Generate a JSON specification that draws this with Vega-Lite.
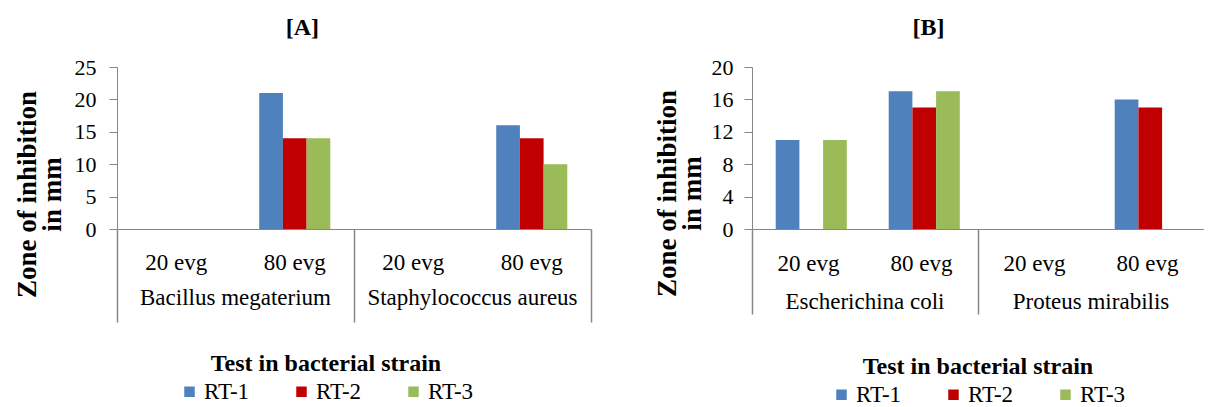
{
  "$schema": "https://vega.github.io/schema/vega-lite/v6.json",
  "padding": {"left": 13, "top": 16, "right": 0, "bottom": 0},
  "config": {
    "font": "Liberation Serif, DejaVu Serif, serif",
    "view": {"stroke": null},
    "axis": {"labelColor": "#000", "titleColor": "#000", "grid": false, "domainColor": "#868686", "tickColor": "#868686", "labelFont": "Liberation Serif, DejaVu Serif, serif", "titleFont": "Liberation Serif, DejaVu Serif, serif"},
    "legend": {"layout": {"bottom": {"anchor": "middle"}}, "labelFont": "Liberation Serif, DejaVu Serif, serif", "titleFont": "Liberation Serif, DejaVu Serif, serif", "labelColor": "#000", "titleColor": "#000"},
    "title": {"font": "Liberation Serif, DejaVu Serif, serif", "color": "#000"}
  },
  "datasets": {
    "a": [
      {"cat": "Bacillus megaterium|20 evg", "rt": "RT-1", "value": 0},
      {"cat": "Bacillus megaterium|20 evg", "rt": "RT-2", "value": 0},
      {"cat": "Bacillus megaterium|20 evg", "rt": "RT-3", "value": 0},
      {"cat": "Bacillus megaterium|80 evg", "rt": "RT-1", "value": 21},
      {"cat": "Bacillus megaterium|80 evg", "rt": "RT-2", "value": 14},
      {"cat": "Bacillus megaterium|80 evg", "rt": "RT-3", "value": 14},
      {"cat": "Staphylococcus aureus|20 evg", "rt": "RT-1", "value": 0},
      {"cat": "Staphylococcus aureus|20 evg", "rt": "RT-2", "value": 0},
      {"cat": "Staphylococcus aureus|20 evg", "rt": "RT-3", "value": 0},
      {"cat": "Staphylococcus aureus|80 evg", "rt": "RT-1", "value": 16},
      {"cat": "Staphylococcus aureus|80 evg", "rt": "RT-2", "value": 14},
      {"cat": "Staphylococcus aureus|80 evg", "rt": "RT-3", "value": 10}
    ],
    "b": [
      {"cat": "Escherichina coli|20 evg", "rt": "RT-1", "value": 11},
      {"cat": "Escherichina coli|20 evg", "rt": "RT-2", "value": 0},
      {"cat": "Escherichina coli|20 evg", "rt": "RT-3", "value": 11},
      {"cat": "Escherichina coli|80 evg", "rt": "RT-1", "value": 17},
      {"cat": "Escherichina coli|80 evg", "rt": "RT-2", "value": 15},
      {"cat": "Escherichina coli|80 evg", "rt": "RT-3", "value": 17},
      {"cat": "Proteus mirabilis|20 evg", "rt": "RT-1", "value": 0},
      {"cat": "Proteus mirabilis|20 evg", "rt": "RT-2", "value": 0},
      {"cat": "Proteus mirabilis|20 evg", "rt": "RT-3", "value": 0},
      {"cat": "Proteus mirabilis|80 evg", "rt": "RT-1", "value": 16},
      {"cat": "Proteus mirabilis|80 evg", "rt": "RT-2", "value": 15},
      {"cat": "Proteus mirabilis|80 evg", "rt": "RT-3", "value": 0}
    ]
  },
  "spacing": 61,
  "resolve": {"scale": {"color": "independent"}, "legend": {"color": "independent"}},
  "hconcat": [
    {
      "width": 474,
      "height": 162,
      "title": {"text": "[A]", "fontSize": 24, "fontWeight": "bold", "frame": "bounds", "anchor": "middle", "offset": 16},
      "data": {"name": "a"},
      "resolve": {"axis": {"x": "independent"}},
      "layer": [
        {
          "mark": {"type": "bar"},
          "encoding": {
            "x": {"field": "cat", "type": "nominal",
              "scale": {"domain": ["Bacillus megaterium|20 evg", "Bacillus megaterium|80 evg", "Staphylococcus aureus|20 evg", "Staphylococcus aureus|80 evg"], "paddingInner": 0, "paddingOuter": 0},
              "axis": {"orient": "bottom", "title": null, "labelExpr": "split(datum.value, '|')[1]", "ticks": false, "labelPadding": 22, "labelAngle": 0, "labelFontSize": 23, "labelLimit": 0}},
            "xOffset": {"field": "rt", "type": "nominal", "scale": {"domain": ["RT-1", "RT-2", "RT-3"], "paddingInner": 0, "paddingOuter": 1.8}},
            "y": {"field": "value", "type": "quantitative",
              "scale": {"domain": [0, 25], "nice": false},
              "axis": {"values": [0, 5, 10, 15, 20, 25], "title": ["Zone of inhibition", "in mm"], "titleFontSize": 27, "titleFontWeight": "bold", "titleLineHeight": 25, "titlePadding": 8, "titleY": 127, "labelFontSize": 22, "tickSize": 8, "labelPadding": 13}},
            "color": {"field": "rt", "type": "nominal",
              "scale": {"domain": ["RT-1", "RT-2", "RT-3"], "range": ["#4F81BD", "#C00000", "#9BBB59"]},
              "legend": {"title": "Test in bacterial strain", "orient": "none", "legendX": 61, "legendY": 285, "direction": "horizontal", "titleAnchor": "middle", "titleFontSize": 24, "titleFontWeight": "bold", "titleLimit": 0, "labelFontSize": 23, "symbolType": "square", "symbolSize": 110, "symbolStrokeWidth": 0, "columnPadding": 40, "titlePadding": 4, "labelOffset": 3}}
          }
        },
        {
          "mark": {"type": "rule", "opacity": 0},
          "encoding": {
            "x": {"field": "cat", "type": "nominal",
              "axis": {"orient": "bottom", "title": null, "values": ["Bacillus megaterium|20 evg", "Staphylococcus aureus|20 evg"], "bandPosition": 0, "labels": false, "domain": false, "tickSize": 93, "tickWidth": 1.5}}
          }
        },
        {
          "mark": {"type": "rule", "opacity": 0},
          "encoding": {
            "x": {"field": "cat", "type": "nominal",
              "axis": {"orient": "bottom", "title": null, "values": ["Staphylococcus aureus|80 evg"], "bandPosition": 1, "labels": false, "domain": false, "tickSize": 93, "tickWidth": 1.5}}
          }
        },
        {
          "mark": {"type": "rule", "opacity": 0},
          "encoding": {
            "x": {"field": "cat", "type": "nominal",
              "axis": {"orient": "bottom", "title": null, "values": ["Bacillus megaterium|80 evg", "Staphylococcus aureus|80 evg"], "labelExpr": "split(datum.value, '|')[0]", "labelOffset": -59.25, "ticks": false, "domain": false, "labelPadding": 57, "labelAngle": 0, "labelFontSize": 23, "labelLimit": 0}}
          }
        }
      ]
    },
    {
      "width": 452,
      "height": 162,
      "title": {"text": "[B]", "fontSize": 24, "fontWeight": "bold", "frame": "bounds", "anchor": "middle", "offset": 16},
      "data": {"name": "b"},
      "resolve": {"axis": {"x": "independent"}},
      "layer": [
        {
          "mark": {"type": "bar"},
          "encoding": {
            "x": {"field": "cat", "type": "nominal",
              "scale": {"domain": ["Escherichina coli|20 evg", "Escherichina coli|80 evg", "Proteus mirabilis|20 evg", "Proteus mirabilis|80 evg"], "paddingInner": 0, "paddingOuter": 0},
              "axis": {"orient": "bottom", "title": null, "labelExpr": "split(datum.value, '|')[1]", "ticks": false, "labelPadding": 23, "labelAngle": 0, "labelFontSize": 23, "labelLimit": 0}},
            "xOffset": {"field": "rt", "type": "nominal", "scale": {"domain": ["RT-1", "RT-2", "RT-3"], "paddingInner": 0, "paddingOuter": 1.6}},
            "y": {"field": "value", "type": "quantitative",
              "scale": {"domain": [0, 20], "nice": false},
              "axis": {"values": [0, 4, 8, 12, 16, 20], "title": ["Zone of inhibition", "in mm"], "titleFontSize": 27, "titleFontWeight": "bold", "titleLineHeight": 25, "titlePadding": 5, "titleY": 126, "labelFontSize": 22, "tickSize": 8, "labelPadding": 11}},
            "color": {"field": "rt", "type": "nominal",
              "scale": {"domain": ["RT-1", "RT-2", "RT-3"], "range": ["#4F81BD", "#C00000", "#9BBB59"]},
              "legend": {"title": "Test in bacterial strain", "orient": "bottom", "direction": "horizontal", "titleAnchor": "middle", "titleFontSize": 24, "titleFontWeight": "bold", "titleLimit": 0, "labelFontSize": 23, "symbolType": "square", "symbolSize": 110, "symbolStrokeWidth": 0, "columnPadding": 40, "offset": 40, "titlePadding": 4, "labelOffset": 3}}
          }
        },
        {
          "mark": {"type": "rule", "opacity": 0},
          "encoding": {
            "x": {"field": "cat", "type": "nominal",
              "axis": {"orient": "bottom", "title": null, "values": ["Escherichina coli|20 evg", "Proteus mirabilis|20 evg"], "bandPosition": 0, "labels": false, "domain": false, "tickSize": 85, "tickWidth": 1.5}}
          }
        },
        {
          "mark": {"type": "rule", "opacity": 0},
          "encoding": {
            "x": {"field": "cat", "type": "nominal",
              "axis": {"orient": "bottom", "title": null, "values": ["Escherichina coli|80 evg", "Proteus mirabilis|80 evg"], "labelExpr": "split(datum.value, '|')[0]", "labelOffset": -56.5, "ticks": false, "domain": false, "labelPadding": 61, "labelAngle": 0, "labelFontSize": 23, "labelLimit": 0}}
          }
        }
      ]
    }
  ]
}
